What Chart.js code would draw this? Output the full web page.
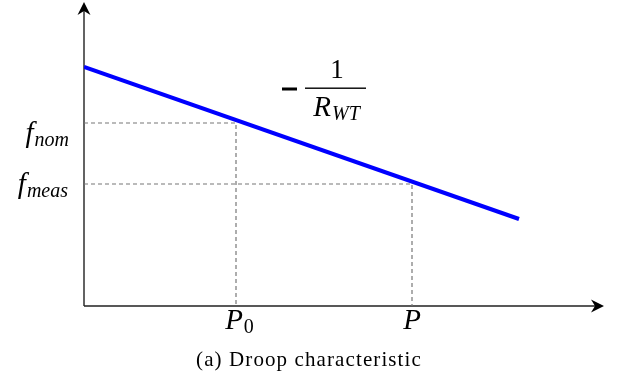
<!DOCTYPE html>
<html>
<head>
<meta charset="utf-8">
<script src="https://cdn.jsdelivr.net/npm/chart.js@4/dist/chart.umd.min.js"></script>
<style>
  html, body { margin: 0; padding: 0; background: #fff; }
  #chart { display: block; }
</style>
</head>
<body>
<canvas id="chart" width="622" height="381"></canvas>
<script>
'use strict';

// Droop line (power on x, frequency on y), arbitrary units
const DROOP_P = [0, 435];
const DROOP_F = [239, 87];

// Operating points
const P_NOM = 152;   // P0
const P_MEAS = 328;  // P
const F_NOM = 183;
const F_MEAS = 122;

const AXIS_MAX_X = 520;
const AXIS_MAX_Y = 304;

const SERIF = "'Liberation Serif', 'Times New Roman', serif";
const AXIS_COLOR = '#222';

// ---------------------------------------------------------------------------
// Helpers
// ---------------------------------------------------------------------------
function guide(px, fy) {
  return [{ x: 0, y: fy }, { x: px, y: fy }, { x: px, y: 0 }];
}

// math-style label: italic main text with lowered subscript
function mathLabel(ctx, main, sub, x, y, align, size, subSize, subItalic) {
  ctx.font = `italic ${size}px ${SERIF}`;
  const wMain = ctx.measureText(main).width;
  ctx.font = `${subItalic ? 'italic ' : ''}${subSize}px ${SERIF}`;
  const wSub = ctx.measureText(sub).width;
  let left = x;
  if (align === 'right') left = x - wMain - wSub;
  if (align === 'center') left = x - (wMain + wSub) / 2;
  ctx.textAlign = 'left';
  ctx.textBaseline = 'alphabetic';
  ctx.font = `italic ${size}px ${SERIF}`;
  ctx.fillText(main, left, y);
  ctx.font = `${subItalic ? 'italic ' : ''}${subSize}px ${SERIF}`;
  ctx.fillText(sub, left + wMain + 1, y + 4);
}

function arrowHead(ctx, tipX, tipY, dx, dy) {
  // stealth arrow pointing along (dx, dy)
  const len = 13, half = 6.5, notch = 9;
  const nx = -dy, ny = dx;
  ctx.beginPath();
  ctx.moveTo(tipX, tipY);
  ctx.lineTo(tipX - dx * len + nx * half, tipY - dy * len + ny * half);
  ctx.lineTo(tipX - dx * notch, tipY - dy * notch);
  ctx.lineTo(tipX - dx * len - nx * half, tipY - dy * len - ny * half);
  ctx.closePath();
  ctx.fill();
}

// ---------------------------------------------------------------------------
// Axes + annotations plugin
// ---------------------------------------------------------------------------
const annotations = {
  id: 'annotations',
  beforeDatasetsDraw(chart) {
    const { ctx, scales: { x, y } } = chart;
    const x0 = x.getPixelForValue(0), y0 = y.getPixelForValue(0);
    const xEnd = x.getPixelForValue(AXIS_MAX_X), yEnd = y.getPixelForValue(AXIS_MAX_Y);
    ctx.save();
    ctx.strokeStyle = AXIS_COLOR;
    ctx.fillStyle = '#000';
    ctx.lineWidth = 1.4;
    ctx.beginPath();
    ctx.moveTo(x0, y0); ctx.lineTo(xEnd - 6, y0);
    ctx.moveTo(x0, y0); ctx.lineTo(x0, yEnd + 6);
    ctx.stroke();
    arrowHead(ctx, xEnd, y0, 1, 0);
    arrowHead(ctx, x0, yEnd, 0, -1);
    ctx.restore();
  },
  afterDraw(chart) {
    const { ctx, scales: { x, y } } = chart;
    const x0 = x.getPixelForValue(0);
    const y0 = y.getPixelForValue(0);
    ctx.save();
    ctx.fillStyle = '#000';

    // frequency labels
    mathLabel(ctx, 'f', 'nom', x0 - 16, y.getPixelForValue(F_NOM) + 19, 'right', 29, 20, true);
    mathLabel(ctx, 'f', 'meas', x0 - 17, y.getPixelForValue(F_MEAS) + 9, 'right', 29, 20, true);

    // power labels
    mathLabel(ctx, 'P', '0', x.getPixelForValue(P_NOM) + 3, y0 + 23, 'center', 29, 20, false);
    mathLabel(ctx, 'P', '', x.getPixelForValue(P_MEAS), y0 + 23, 'center', 29, 20, false);

    // slope label  -1/R_WT
    const fx = x.getPixelForValue(253), fy = y.getPixelForValue(218);
    ctx.fillRect(fx - 55, fy - 0.5, 15, 3);       // minus sign
    ctx.fillRect(fx - 32, fy - 0.5, 61, 1.4);     // fraction bar
    ctx.font = `27px ${SERIF}`;
    ctx.textAlign = 'center';
    ctx.textBaseline = 'alphabetic';
    ctx.fillText('1', fx, fy - 10);
    mathLabel(ctx, 'R', 'WT', fx - 1, fy + 28, 'center', 29, 20, true);

    // caption
    ctx.font = `21px ${SERIF}`;
    ctx.textAlign = 'center';
    ctx.letterSpacing = '1.1px';
    ctx.fillText('(a) Droop characteristic', 309, 366);
    ctx.restore();
  },
};

// ---------------------------------------------------------------------------
// Chart
// ---------------------------------------------------------------------------
const dashed = {
  borderColor: '#777',
  borderWidth: 1.2,
  borderDash: [4, 3],
  pointRadius: 0,
  showLine: true,
  fill: false,
};

new Chart(document.getElementById('chart').getContext('2d'), {
  type: 'scatter',
  data: {
    datasets: [
      { ...dashed, data: guide(P_NOM, F_NOM) },
      { ...dashed, data: guide(P_MEAS, F_MEAS) },
      {
        data: DROOP_P.map((p, i) => ({ x: p, y: DROOP_F[i] })),
        borderColor: '#0000ff',
        borderWidth: 4,
        pointRadius: 0,
        showLine: true,
        fill: false,
      },
    ],
  },
  options: {
    responsive: false,
    animation: false,
    layout: { padding: { left: 84, right: 18, top: 2, bottom: 75 } },
    plugins: { legend: { display: false }, tooltip: { enabled: false } },
    scales: {
      x: { type: 'linear', min: 0, max: AXIS_MAX_X, display: false },
      y: { type: 'linear', min: 0, max: AXIS_MAX_Y, display: false },
    },
  },
  plugins: [annotations],
});
</script>
</body>
</html>
